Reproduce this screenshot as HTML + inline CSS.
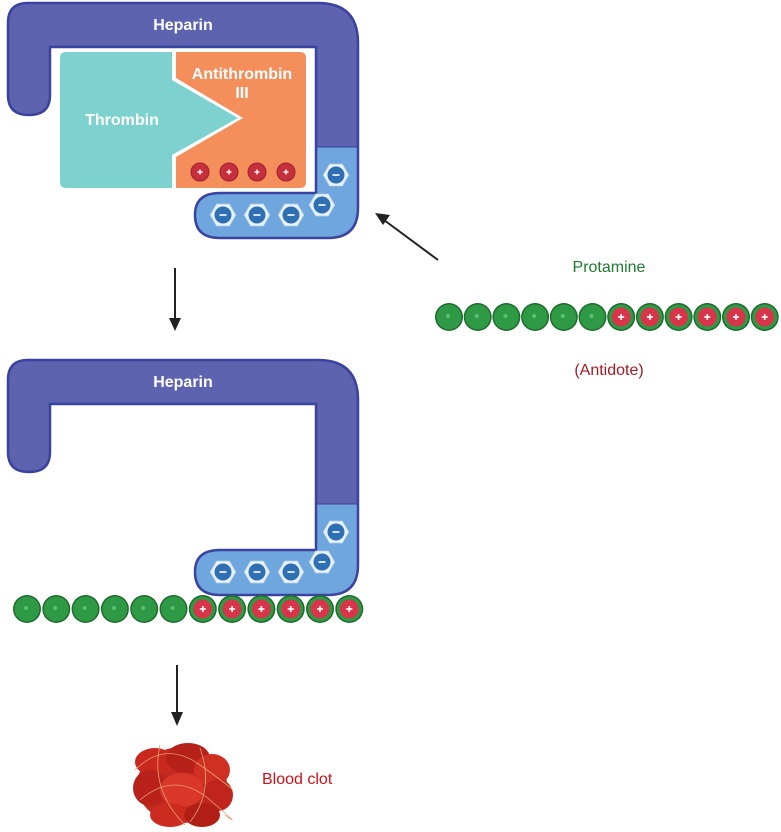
<!DOCTYPE html>
<html><head><meta charset="utf-8"><style>
html,body{margin:0;padding:0;background:#fff;width:781px;height:832px;overflow:hidden}
svg{display:block}
text{font-family:"Liberation Sans",sans-serif}
</style></head><body>
<svg width="781" height="832" viewBox="0 0 781 832" xmlns="http://www.w3.org/2000/svg">
<defs>
  <g id="hex">
    <polygon points="-12.5,0 -6.25,-10.8 6.25,-10.8 12.5,0 6.25,10.8 -6.25,10.8" fill="#e8f2fb" stroke="#cfe2f3" stroke-width="1"/>
    <circle r="8.5" fill="#2f6fb3"/>
    <rect x="-3.5" y="-0.8" width="7" height="1.6" fill="#fff"/>
  </g>
  <g id="gb">
    <circle r="14" fill="#1f6b2e"/>
    <circle r="12.5" fill="#2f9a45"/>
    <circle cx="-1" cy="-1" r="2" fill="#5cc070"/>
  </g>
  <g id="rb">
    <circle r="14" fill="#1f6b2e"/>
    <circle r="12.5" fill="#2f9a45"/>
    <circle r="9.5" fill="#d9354a"/>
    <rect x="-3" y="-0.8" width="6" height="1.6" fill="#fff"/>
    <rect x="-0.8" y="-3" width="1.6" height="6" fill="#fff"/>
  </g>
  <g id="hep">
    <path d="M28,3 H318 Q358,3 358,43 V208 Q358,238 328,238 H220 Q195,238 195,215 Q195,193 220,193 H316 V47 H50 V95 Q50,115 29,115 Q8,115 8,95 V23 Q8,3 28,3 Z" fill="#5d63ae"/>
    <path d="M316,147 H358 V208 Q358,238 328,238 H220 Q195,238 195,215 Q195,193 220,193 H316 Z" fill="#6ea6dd"/>
    <path d="M28,3 H318 Q358,3 358,43 V208 Q358,238 328,238 H220 Q195,238 195,215 Q195,193 220,193 H316 V47 H50 V95 Q50,115 29,115 Q8,115 8,95 V23 Q8,3 28,3 Z" fill="none" stroke="#3a43a0" stroke-width="2.5"/>
    <line x1="316" y1="147" x2="358" y2="147" stroke="#3a43a0" stroke-width="1"/>
    <text x="183" y="30" fill="#fff" font-size="16" font-weight="bold" text-anchor="middle">Heparin</text>
    <use href="#hex" x="336" y="175"/>
    <use href="#hex" x="322" y="205"/>
    <use href="#hex" x="291" y="215"/>
    <use href="#hex" x="257" y="215"/>
    <use href="#hex" x="223" y="215"/>
  </g>
</defs>

<use href="#hep"/>
<!-- Thrombin & AT III -->
<path d="M66,52 H172 V80 L238,118 L172,155 V188 H66 Q60,188 60,182 V58 Q60,52 66,52 Z" fill="#7dd2d0"/>
<path d="M176,52 H300 Q306,52 306,58 V182 Q306,188 300,188 H176 V157 L243,118 L176,78 Z" fill="#f48f5b"/>
<text x="122" y="125" fill="#fff" font-size="16" font-weight="bold" text-anchor="middle">Thrombin</text>
<text x="242" y="79" fill="#fff" font-size="16" font-weight="bold" text-anchor="middle">Antithrombin</text>
<text x="242" y="98" fill="#fff" font-size="16" font-weight="bold" text-anchor="middle">III</text>
<g>
  <circle cx="200" cy="172" r="9" fill="#c5303d" stroke="#a02030"/>
  <circle cx="229" cy="172" r="9" fill="#c5303d" stroke="#a02030"/>
  <circle cx="257" cy="172" r="9" fill="#c5303d" stroke="#a02030"/>
  <circle cx="286" cy="172" r="9" fill="#c5303d" stroke="#a02030"/>
  <g fill="#fff">
    <rect x="197.5" y="171.3" width="5" height="1.4"/><rect x="199.3" y="169.5" width="1.4" height="5"/>
    <rect x="226.5" y="171.3" width="5" height="1.4"/><rect x="228.3" y="169.5" width="1.4" height="5"/>
    <rect x="254.5" y="171.3" width="5" height="1.4"/><rect x="256.3" y="169.5" width="1.4" height="5"/>
    <rect x="283.5" y="171.3" width="5" height="1.4"/><rect x="285.3" y="169.5" width="1.4" height="5"/>
  </g>
</g>

<use href="#hep" y="357"/>

<!-- arrows -->
<line x1="175" y1="268" x2="175" y2="320" stroke="#222" stroke-width="2"/>
<polygon points="169,318 181,318 175,331" fill="#222"/>
<line x1="177" y1="665" x2="177" y2="714" stroke="#222" stroke-width="2"/>
<polygon points="171,712 183,712 177,726" fill="#222"/>
<line x1="438" y1="260" x2="384" y2="220" stroke="#222" stroke-width="2"/>
<polygon points="375,213 390,215 383,225" fill="#222"/>

<!-- right protamine chain -->
<g transform="translate(449,317)">
  <use href="#gb" x="0"/><use href="#gb" x="28.7"/><use href="#gb" x="57.4"/><use href="#gb" x="86.1"/><use href="#gb" x="114.8"/><use href="#gb" x="143.5"/>
  <use href="#rb" x="172.2"/><use href="#rb" x="200.9"/><use href="#rb" x="229.6"/><use href="#rb" x="258.3"/><use href="#rb" x="287"/><use href="#rb" x="315.7"/>
</g>
<text x="609" y="272" fill="#1e7a30" font-size="16" text-anchor="middle">Protamine</text>
<text x="609" y="375" fill="#a01c24" font-size="16" text-anchor="middle">(Antidote)</text>

<!-- bottom chain -->
<g transform="translate(27,609)">
  <use href="#gb" x="0"/><use href="#gb" x="29.3"/><use href="#gb" x="58.6"/><use href="#gb" x="87.9"/><use href="#gb" x="117.2"/><use href="#gb" x="146.5"/>
  <use href="#rb" x="175.8"/><use href="#rb" x="205.1"/><use href="#rb" x="234.4"/><use href="#rb" x="263.7"/><use href="#rb" x="293"/><use href="#rb" x="322.3"/>
</g>

<!-- blood clot -->
<g>
  <ellipse cx="182" cy="785" rx="45" ry="38" fill="#c02a1e"/>
  <ellipse cx="155" cy="762" rx="20" ry="14" fill="#c8281e"/>
  <ellipse cx="188" cy="758" rx="22" ry="15" fill="#b52018"/>
  <ellipse cx="212" cy="770" rx="18" ry="16" fill="#d03022"/>
  <ellipse cx="150" cy="788" rx="17" ry="18" fill="#b8221a"/>
  <ellipse cx="182" cy="790" rx="22" ry="17" fill="#d9372a"/>
  <ellipse cx="218" cy="795" rx="15" ry="16" fill="#bf251c"/>
  <ellipse cx="170" cy="815" rx="20" ry="12" fill="#cc2c20"/>
  <ellipse cx="202" cy="815" rx="18" ry="12" fill="#b01e16"/>
  <g fill="none" stroke="#e8a070" stroke-width="0.8">
    <path d="M135,770 Q165,740 200,765 T232,790"/>
    <path d="M140,800 Q175,770 210,800 T225,815"/>
    <path d="M160,745 Q150,790 185,825"/>
    <path d="M200,748 Q215,790 190,822"/>
  </g>
</g>
<text x="262" y="784" fill="#d0101a" font-size="16">Blood clot</text>
</svg>
</body></html>
